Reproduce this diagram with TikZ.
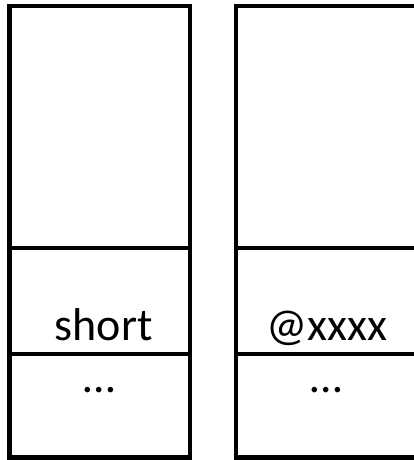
\documentclass[tikz,border=0pt]{standalone}
\usepackage{fontspec}
\setmainfont{Carlito}
\usetikzlibrary{calc}

\begin{document}
\begin{tikzpicture}[
    x=1pt, y=-1pt,
    cell/.style={draw=black, line width=4.5pt, minimum width=180.5pt, inner sep=0pt,
                 outer sep=0pt, anchor=north west},
    lbl/.style={font=\fontsize{46}{50}\selectfont, anchor=base, inner sep=0pt},
  ]

  % Bildausschnitt wie im Original (rechte Spalte läuft über den Rand)
  \clip (0,0) rectangle (414,460);

  % zwei Spalten aus je drei Feldern
  \foreach \c/\x in {l/9.5, r/236} {
    \node[cell, minimum height=242pt]   (\c top) at (\x, 6)   {};
    \node[cell, minimum height=106pt]   (\c mid) at (\x, 248) {};
    \node[cell, minimum height=103.5pt] (\c bot) at (\x, 354) {};
  }

  % Inhalte der Felder
  \node[lbl] (short) at ($(lmid.south) + (4, -14)$) {short};
  \node[lbl] (addr)  at ($(rmid.south) + (1, -14)$) {@xxxx};
  \node[lbl] (ldots) at ($(lbot.north) + (0, 38)$)  {…};
  \node[lbl] (rdots) at ($(rbot.north) + (0, 38)$)  {…};

\end{tikzpicture}
\end{document}
